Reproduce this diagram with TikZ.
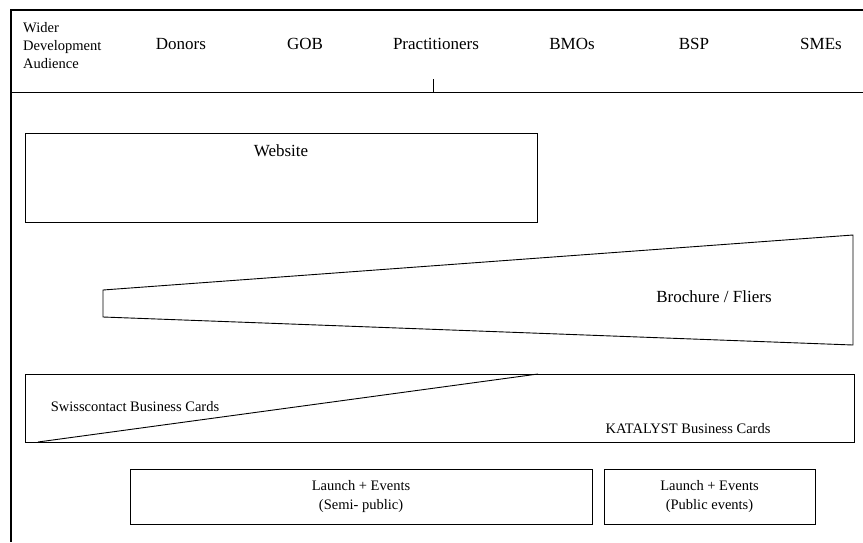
\documentclass[tikz,border=0pt]{standalone}
\usepackage{fontspec}
\setmainfont{Liberation Serif}
\usetikzlibrary{positioning}

\begin{document}
\begin{tikzpicture}[
    x=1pt, y=-1pt,
    frame/.style={draw=black, line width=1.8pt},
    panel/.style={draw=black, line width=0.9pt},
    head/.style={font=\fontsize{17}{20}\selectfont, inner sep=0pt},
    small/.style={font=\fontsize{14.5}{18}\selectfont, inner sep=0pt, align=center},
    event/.style={panel, small, font=\fontsize{14.5}{19}\selectfont, minimum height=55pt},
]
\useasboundingbox (0,0) rectangle (863,542);

% Outer frame and header rule
\draw[frame] (863,10) -- (11,10) -- (11,542);
\coordinate (ruleL) at (11,92.5);
\coordinate (ruleR) at (863,92.5);
\draw[panel] (ruleL) -- (ruleR);
\coordinate (tickT) at (433,79);
\coordinate (tickB) at (433,92.5);
\draw[panel] (tickT) -- (tickB);

% Audience header
\node[small, align=left, anchor=west] (wider) at (23,46) {Wider\\Development\\Audience};
\node[head] (donors) at (181,44) {Donors};
\node[head] (gob) at (305,44) {GOB};
\node[head] (pract) at (436,44) {Practitioners};
\node[head] (bmos) at (572,44) {BMOs};
\node[head] (bsp) at (694,44) {BSP};
\node[head] (smes) at (821,44) {SMEs};

% Website
\draw[panel] (25,133) rectangle (537,222);
\node[head] (website) at (281,151) {Website};

% Brochure / Fliers wedge
\draw[panel] (103,290) -- (853,235) -- (853,345) -- (103,317) -- cycle;
\node[head] (brochure) at (714,296.5) {Brochure / Fliers};

% Business cards, split by a diagonal
\draw[panel] (25,374) rectangle (854,442);
\coordinate (cardA) at (38,442);
\coordinate (cardB) at (538,374);
\draw[panel] (cardA) -- (cardB);
\node[small] (swiss) at (135,407) {Swisscontact Business Cards};
\node[small] (katalyst) at (688,428.5) {KATALYST Business Cards};

% Launch and events
\node[event, minimum width=462pt] (semi) at (361,496.5) {Launch + Events\\(Semi- public)};
\node[event, minimum width=211pt] (public) at (709.5,496.5) {Launch + Events\\(Public events)};

\end{tikzpicture}
\end{document}
